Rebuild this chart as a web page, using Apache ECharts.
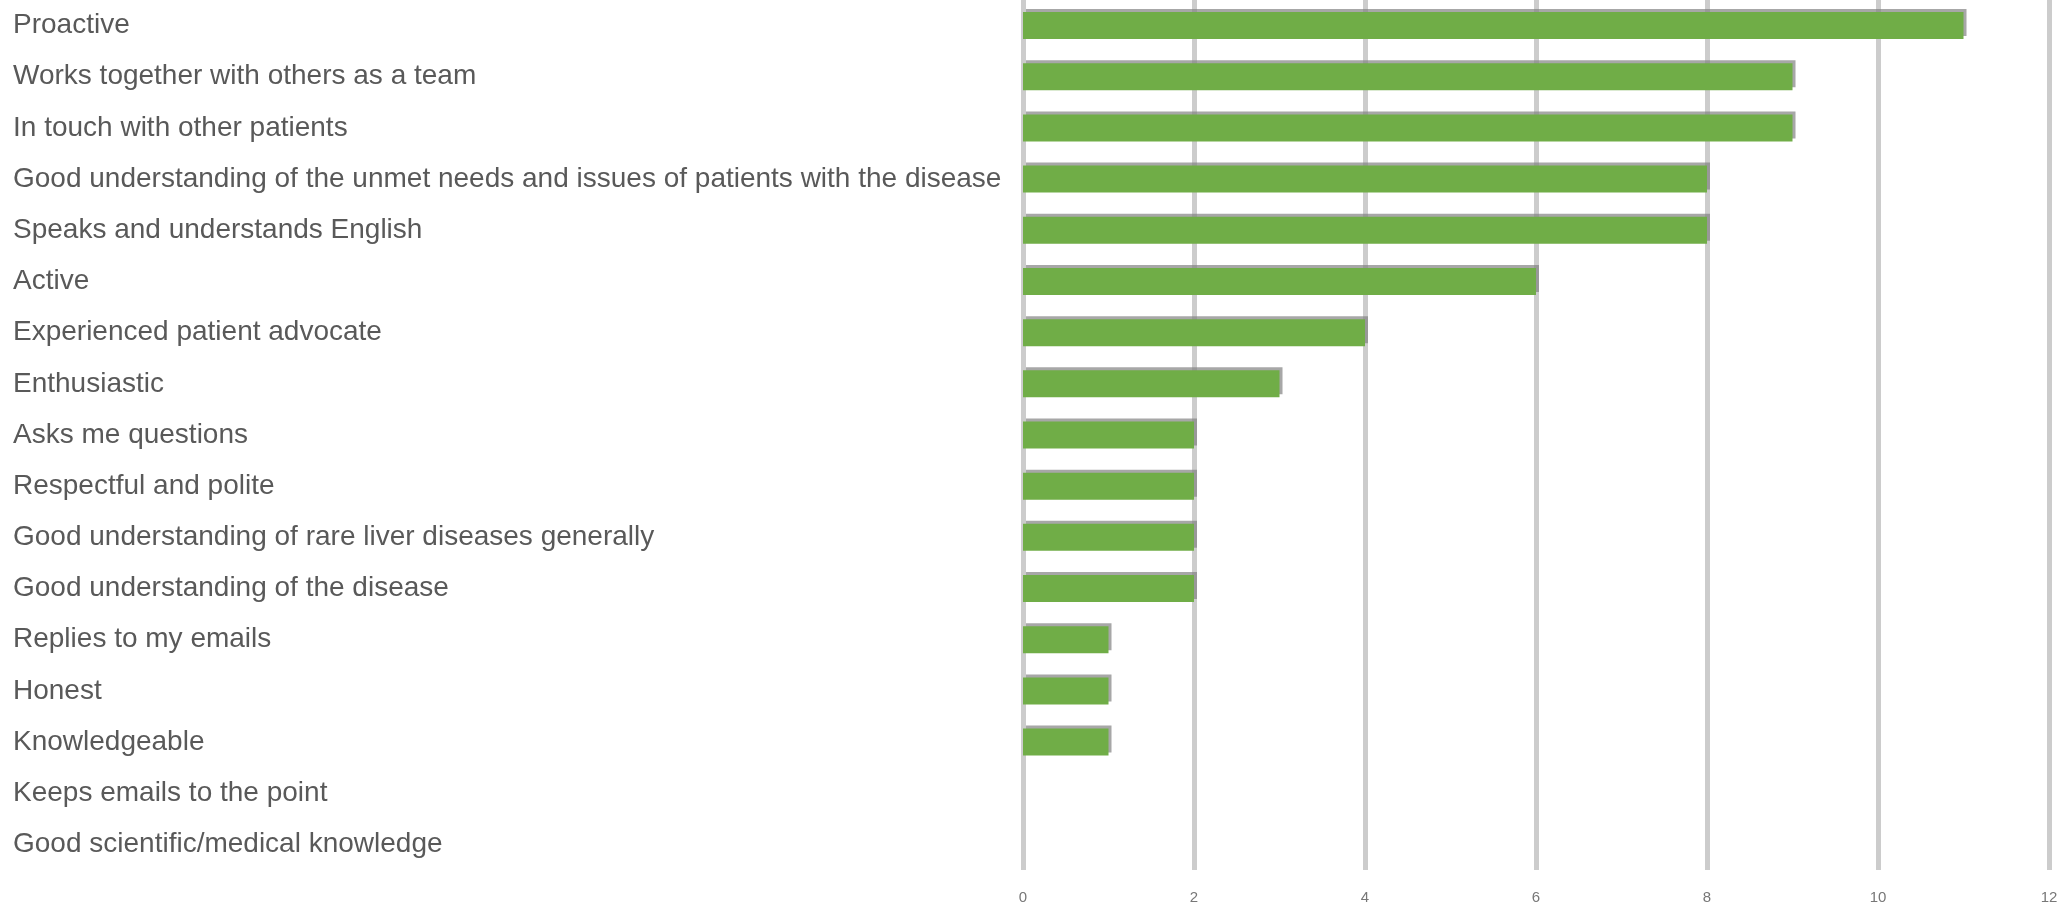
<!DOCTYPE html>
<html>
<head>
<meta charset="utf-8">
<script src="https://cdn.jsdelivr.net/npm/echarts@6/dist/echarts.min.js"></script>
<style>
  html, body { margin: 0; padding: 0; background: #fff; }
  #chart { width: 2061px; height: 910px; }
</style>
</head>
<body>
<div id="chart"></div>
<script>
var categories = [
  'Proactive',
  'Works together with others as a team',
  'In touch with other patients',
  'Good understanding of the unmet needs and issues of patients with the disease',
  'Speaks and understands English',
  'Active',
  'Experienced patient advocate',
  'Enthusiastic',
  'Asks me questions',
  'Respectful and polite',
  'Good understanding of rare liver diseases generally',
  'Good understanding of the disease',
  'Replies to my emails',
  'Honest',
  'Knowledgeable',
  'Keeps emails to the point',
  'Good scientific/medical knowledge'
];
var counts = [11, 9, 9, 8, 8, 6, 4, 3, 2, 2, 2, 2, 1, 1, 1, 0, 0];
var xTicks = [0, 2, 4, 6, 8, 10, 12];

var chart = echarts.init(document.getElementById('chart'));
chart.setOption({
  animation: false,
  grid: { left: 1023, right: 12, top: 0, bottom: 40, containLabel: false },
  xAxis: {
    type: 'value',
    min: xTicks[0],
    max: xTicks[xTicks.length - 1],
    interval: 2,
    axisLine: { show: false },
    axisTick: { show: false },
    axisLabel: { color: '#777', fontSize: 15, fontFamily: 'Liberation Sans', margin: 20 },
    splitLine: { show: true, lineStyle: { color: '#cccccc', width: 5 } }
  },
  yAxis: {
    type: 'category',
    inverse: true,
    data: categories,
    axisLine: { show: false },
    axisTick: { show: false },
    axisLabel: {
      align: 'left',
      margin: 1010,
      color: '#595959',
      fontSize: 28,
      fontFamily: 'Liberation Sans'
    }
  },
  series: [{
    type: 'bar',
    data: counts,
    barWidth: 27,
    itemStyle: {
      color: '#70ad47',
      shadowColor: 'rgba(130,130,130,0.7)',
      shadowOffsetX: 3,
      shadowOffsetY: -3,
      shadowBlur: 0
    }
  }]
});
</script>
</body>
</html>
